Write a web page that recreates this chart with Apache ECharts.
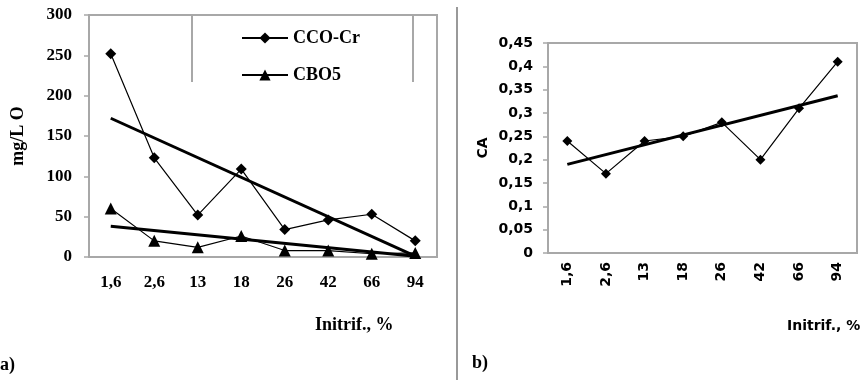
<!DOCTYPE html>
<html>
<head>
<meta charset="utf-8">
<script src="https://cdn.jsdelivr.net/npm/echarts@6/dist/echarts.min.js"></script>
<style>
  html, body { margin: 0; padding: 0; background: #fff; }
  #chart { width: 867px; height: 380px; }
</style>
</head>
<body>
<div id="chart"></div>
<script>
// categories (Initrif., %)
const categories = ["1,6", "2,6", "13", "18", "26", "42", "66", "94"];
// panel a) mg/L O
const ccoCr = [252, 123, 52, 109, 34, 46, 53, 20];
const cbo5 = [60, 20, 12, 26, 8, 8, 4, 5];
// trend line ends (first, last category)
const ccoTrend = [172, 1];
const cboTrend = [38, 1];
// panel b) CA
const ca = [0.24, 0.17, 0.24, 0.25, 0.28, 0.2, 0.31, 0.41];
const caTrend = [0.19, 0.337];

const serif = "Liberation Serif";
const sans = "DejaVu Sans";
const grey = "#a8a8a8";

// trend: only first and last point, gap bridged
function trend(ends) {
  return categories.map((c, i) =>
    i === 0 ? ends[0] : i === categories.length - 1 ? ends[1] : null
  );
}

const chart = echarts.init(document.getElementById("chart"));
const option = {
  animation: false,
  grid: [
    { left: 89, top: 15, right: 430, bottom: 123, show: true, borderColor: grey, borderWidth: 2 },
    { left: 548, top: 43, right: 10, bottom: 127, show: true, borderColor: grey, borderWidth: 2 },
  ],
  legend: {
    data: ["CCO-Cr", "CBO5"],
    orient: "vertical",
    left: 236,
    top: 24,
    itemWidth: 46,
    itemHeight: 14,
    itemGap: 19,
    textStyle: { fontFamily: serif, fontWeight: "bold", fontSize: 18, color: "#000" },
  },
  xAxis: [
    {
      gridIndex: 0,
      type: "category",
      data: categories,
      axisLine: { lineStyle: { color: grey, width: 2 } },
      axisTick: { length: 5, lineStyle: { color: grey, width: 1.5 } },
      axisLabel: { margin: 17, fontFamily: serif, fontWeight: "bold", fontSize: 17, color: "#000" },
    },
    {
      gridIndex: 1,
      type: "category",
      data: categories,
      axisLine: { lineStyle: { color: grey, width: 2 } },
      axisTick: { length: 5, lineStyle: { color: grey, width: 1.5 } },
      axisLabel: { rotate: 90, margin: 9, fontFamily: sans, fontWeight: "bold", fontSize: 14, color: "#000" },
    },
  ],
  yAxis: [
    {
      gridIndex: 0,
      type: "value",
      min: 0,
      max: 300,
      interval: 50,
      name: "mg/L O",
      nameLocation: "middle",
      nameGap: 62,
      nameTextStyle: { fontFamily: serif, fontWeight: "bold", fontSize: 18, color: "#000" },
      splitLine: { show: false },
      axisLine: { show: true, lineStyle: { color: grey, width: 2 } },
      axisTick: { show: true, length: 5, lineStyle: { color: grey, width: 1.5 } },
      axisLabel: { margin: 17, fontFamily: serif, fontWeight: "bold", fontSize: 17, color: "#000" },
    },
    {
      gridIndex: 1,
      type: "value",
      min: 0,
      max: 0.45,
      interval: 0.05,
      name: "CA",
      nameLocation: "middle",
      nameGap: 58,
      nameTextStyle: { fontFamily: sans, fontWeight: "bold", fontSize: 14, color: "#000" },
      splitLine: { show: false },
      axisLine: { show: true, lineStyle: { color: grey, width: 2 } },
      axisTick: { show: true, length: 5, lineStyle: { color: grey, width: 1.5 } },
      axisLabel: {
        margin: 15,
        fontFamily: sans,
        fontWeight: "bold",
        fontSize: 14,
        color: "#000",
        formatter: (v) => String(+v.toFixed(2)).replace(".", ","),
      },
    },
  ],
  series: [
    {
      name: "CCO-Cr",
      type: "line",
      xAxisIndex: 0,
      yAxisIndex: 0,
      data: ccoCr,
      symbol: "diamond",
      symbolSize: 11,
      itemStyle: { color: "#000" },
      lineStyle: { color: "#000", width: 1.2 },
    },
    {
      name: "CBO5",
      type: "line",
      xAxisIndex: 0,
      yAxisIndex: 0,
      data: cbo5,
      symbol: "triangle",
      symbolSize: 12,
      itemStyle: { color: "#000" },
      lineStyle: { color: "#000", width: 1.2 },
    },
    {
      name: "ccoTrend",
      type: "line",
      xAxisIndex: 0,
      yAxisIndex: 0,
      data: trend(ccoTrend),
      connectNulls: true,
      showSymbol: false,
      lineStyle: { color: "#000", width: 3 },
    },
    {
      name: "cboTrend",
      type: "line",
      xAxisIndex: 0,
      yAxisIndex: 0,
      data: trend(cboTrend),
      connectNulls: true,
      showSymbol: false,
      lineStyle: { color: "#000", width: 3 },
    },
    {
      name: "CA",
      type: "line",
      xAxisIndex: 1,
      yAxisIndex: 1,
      data: ca,
      symbol: "diamond",
      symbolSize: 10,
      itemStyle: { color: "#000" },
      lineStyle: { color: "#000", width: 1.2 },
    },
    {
      name: "caTrend",
      type: "line",
      xAxisIndex: 1,
      yAxisIndex: 1,
      data: trend(caTrend),
      connectNulls: true,
      showSymbol: false,
      lineStyle: { color: "#000", width: 3 },
    },
  ],
  graphic: [
    // legend box (open at the bottom)
    { type: "polyline", shape: { points: [[192, 82], [192, 15], [413, 15], [413, 82]] }, style: { stroke: grey, lineWidth: 2, fill: null } },
    // divider between the panels
    { type: "line", shape: { x1: 457, y1: 7, x2: 457, y2: 380 }, style: { stroke: "#999", lineWidth: 2 } },
    { type: "text", left: 315, top: 316, style: { text: "Initrif., %", font: "bold 18px 'Liberation Serif'", fill: "#000" } },
    { type: "text", left: 0, top: 356, style: { text: "a)", font: "bold 18px 'Liberation Serif'", fill: "#000" } },
    { type: "text", left: 787, top: 319, style: { text: "Initrif., %", font: "bold 14px 'DejaVu Sans'", fill: "#000" } },
    { type: "text", left: 472, top: 354, style: { text: "b)", font: "bold 18px 'Liberation Serif'", fill: "#000" } },
  ],
};
chart.setOption(option);
</script>
</body>
</html>
